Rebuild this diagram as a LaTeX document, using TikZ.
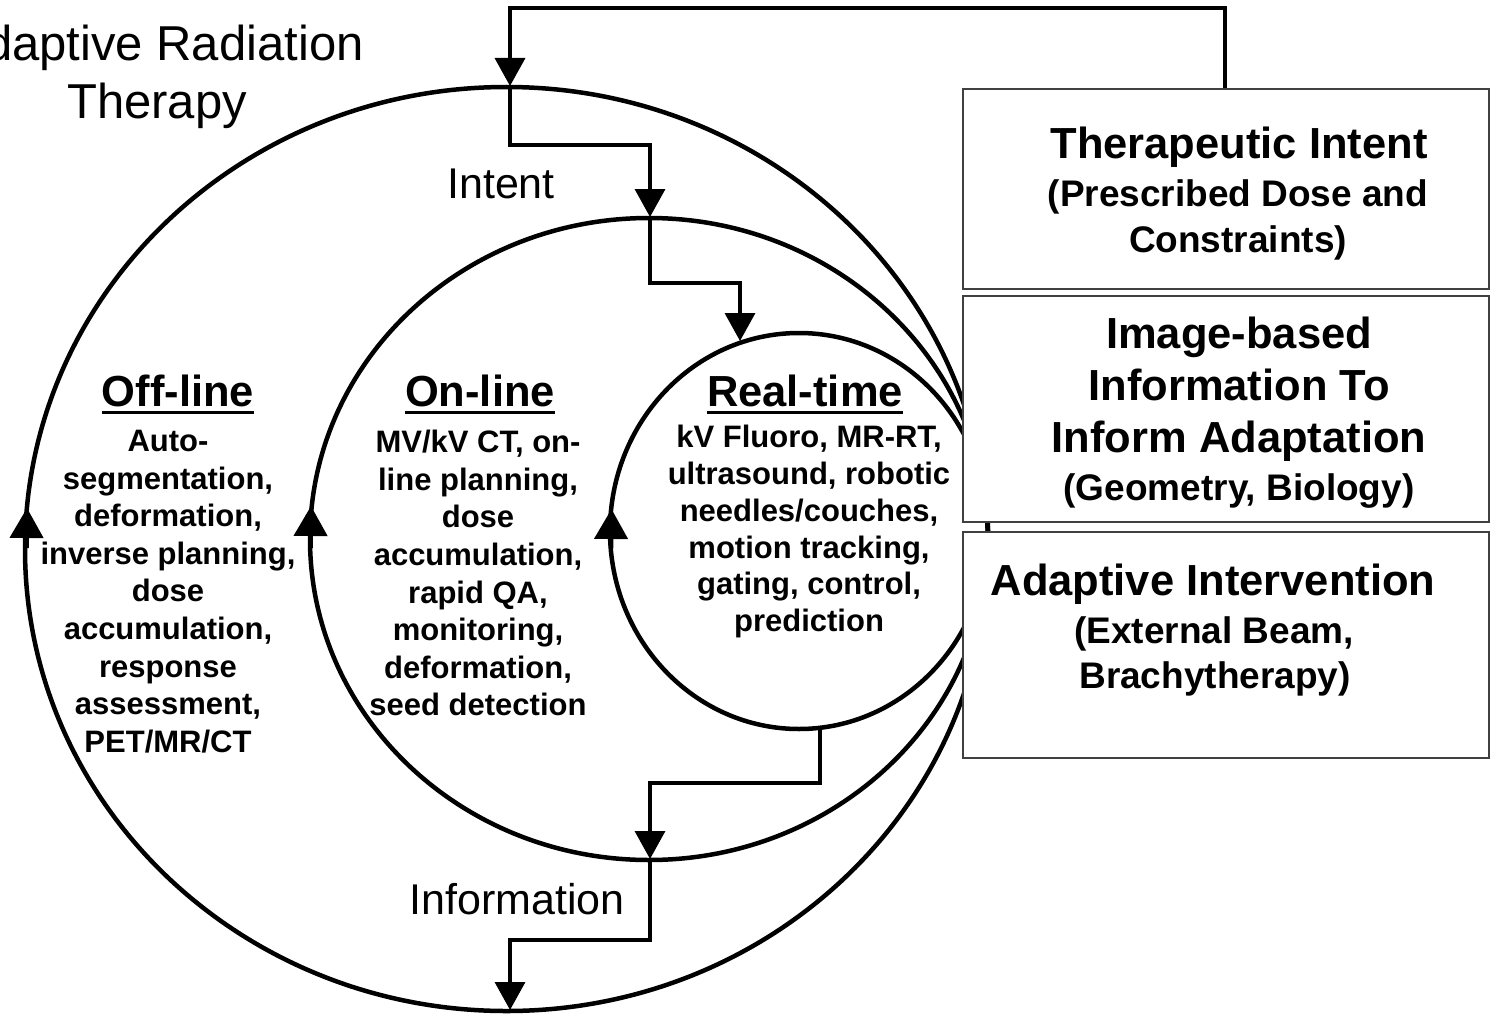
\documentclass[tikz,border=0pt]{standalone}
\usepackage{fontspec}
\setmainfont{Liberation Sans}
\usetikzlibrary{arrows.meta,shapes.geometric,calc}
\begin{document}
\begin{tikzpicture}[x=1pt,y=-1pt,
  ring/.style={draw, line width=4.5pt, ellipse, inner sep=0pt, outer sep=0pt},
  infobox/.style={draw=black!75, line width=2pt, fill=white, inner sep=0pt, anchor=north west, minimum width=526pt},
  stepline/.style={line width=3.5pt, -{Triangle[length=28pt,width=30pt]}},
  cyctip/.style={line width=4.5pt, -{Triangle[length=30pt,width=33pt]}},
  head/.style={font=\fontsize{43.5}{52}\selectfont\bfseries, inner sep=0pt, anchor=base},
  uline/.style={line width=3pt},
  body/.style={font=\fontsize{31}{37.6}\selectfont\bfseries, align=center, inner sep=0pt, anchor=north},
  lab/.style={font=\fontsize{43}{50}\selectfont, inner sep=0pt, anchor=base},
  titletext/.style={font=\fontsize{49}{58}\selectfont, inner sep=0pt, anchor=base},
  bigb/.style={font=\fontsize{43.5}{52}\selectfont\bfseries, inner sep=0pt, anchor=base},
  smallb/.style={font=\fontsize{37}{46}\selectfont\bfseries, inner sep=0pt, anchor=base}]
\useasboundingbox (0,0) rectangle (1490,1014);
\clip (0,0) rectangle (1490,1014);
\fill[white] (0,0) rectangle (1490,1014);

% nested cycles
\node[ring, minimum width=963pt, minimum height=924pt] (outer) at (506.5,549) {};
\node[ring, minimum width=678pt, minimum height=642pt] (middle) at (649,539) {};
\node[ring, minimum width=378pt, minimum height=396pt] (inner) at (799,531) {};

% direction tips on the cycles
\draw[cyctip] (26.5,548) -- (27,508);
\draw[cyctip] (310.5,548) -- (311,506);
\draw[cyctip] (611,548) -- (611.5,509);

% boxes
\node[infobox, minimum height=200pt] (b1) at (962,88) {};
\node[infobox, minimum height=226pt] (b2) at (962,295) {};
\node[infobox, minimum height=226pt] (b3) at (962,531) {};

% connector coordinates
\coordinate (src) at ($(b1.north west)+(263,0)$);
\coordinate (otop) at (510,86);
\coordinate (mtop) at (650,217);
\coordinate (itop) at (740,341);
\coordinate (ibot) at (820,728);
\coordinate (mbot) at (650,859);
\coordinate (obot) at (510,1010);

\draw[stepline] (src) |- (510,8) -- (otop);
\draw[stepline] (otop) -- (510,145) -| (mtop);
\draw[stepline] (mtop) -- (650,283) -| (itop);
\draw[stepline] (ibot) -- (820,783) -| (mbot);
\draw[stepline] (mbot) -- (650,940) -| (obot);

% title
\node[titletext] (t1) at (158,61) {Adaptive Radiation};
\node[titletext] (t2) at (157,119) {Therapy};

% labels
\node[lab] (intent) at (501,198) {Intent};
\node[lab] (info) at (517,914) {Information};

% headings
\node[head] (hoff) at (178,406) {Off-line};
\node[head] (hon) at (480,406) {On-line};
\node[head] (hreal) at (805,406) {Real-time};
\draw[uline] ([yshift=-6pt]hoff.base west) -- ([yshift=-6pt]hoff.base east);
\draw[uline] ([yshift=-6pt]hon.base west) -- ([yshift=-6pt]hon.base east);
\draw[uline] ([yshift=-6pt]hreal.base west) -- ([yshift=-6pt]hreal.base east);

% bodies
\node[body] (toff) at (168,430) {Auto-\\segmentation,\\deformation,\\inverse planning,\\dose\\accumulation,\\response\\assessment,\\PET/MR/CT};
\node[body] (ton) at (478,430) {MV/kV CT, on-\\line planning,\\dose\\accumulation,\\rapid QA,\\monitoring,\\deformation,\\seed detection};
\node[body, font=\fontsize{31}{36.8}\selectfont\bfseries] (treal) at (809,425) {kV Fluoro, MR-RT,\\ultrasound, robotic\\needles/couches,\\motion tracking,\\gating, control,\\prediction};

% box texts
\node[bigb] (b1a) at (1239,158) {Therapeutic Intent};
\node[smallb] (b1b) at (1238,206) {(Prescribed Dose and};
\node[smallb] (b1c) at (1238,252) {Constraints)};

\node[bigb] (b2a) at (1239,348) {Image-based};
\node[bigb] (b2b) at (1239,400) {Information To};
\node[bigb] (b2c) at (1239,452) {Inform Adaptation};
\node[smallb] (b2d) at (1239,500) {(Geometry, Biology)};

\node[bigb] (b3a) at (1213,595) {Adaptive Intervention};
\node[smallb] (b3b) at (1214,643) {(External Beam,};
\node[smallb] (b3c) at (1215,688) {Brachytherapy)};
\end{tikzpicture}
\end{document}
